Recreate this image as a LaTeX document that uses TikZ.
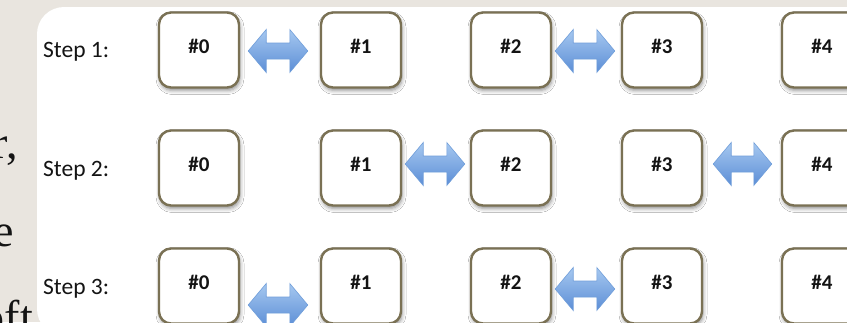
\documentclass[tikz,border=0pt]{standalone}
\usepackage{fontspec}
\setmainfont{Liberation Serif}
\newfontfamily\cellfont{Carlito}
\usetikzlibrary{calc,shadows.blur}

\definecolor{pagebg}{RGB}{233,229,223}
\definecolor{boxrim}{RGB}{122,113,84}
\definecolor{arrowtop}{RGB}{166,200,240}
\definecolor{arrowbot}{RGB}{92,142,214}
\definecolor{arrowrim}{RGB}{112,158,218}
\definecolor{ink}{RGB}{20,20,20}

\tikzset{
  cell/.style={draw=boxrim, line width=2.4pt, fill=white, rounded corners=12pt,
    minimum width=80pt, minimum height=75pt, inner sep=0pt,
    text=ink, font=\cellfont\bfseries\fontsize{21}{21}\selectfont,
    text height=20pt, text depth=13pt,
    blur shadow={shadow xshift=1pt, shadow yshift=-3pt,
      shadow blur radius=4pt, shadow opacity=45}},
  steplabel/.style={anchor=base west, inner sep=0pt, text=ink,
    font=\cellfont\fontsize{23.5}{23.5}\selectfont},
  pagetext/.style={anchor=base east, inner sep=0pt, text=ink,
    font=\fontsize{46}{46}\selectfont},
  swapfill/.style={top color=arrowtop, bottom color=arrowbot,
    draw=arrowrim, line width=0.6pt}
}

% double-headed block arrow between two cells:
% #1 left cell, #2 right cell, #3 left gap, #4 right gap, #5 vertical offset
\newcommand\swaparrow[5]{%
  \path[swapfill]
    let \p1=($(#1.east)+(#3,#5)$), \p2=($(#2.west)+(-#4,#5)$) in
    (\x1,\y1) -- (\x1+18pt,\y1+21.5pt) -- (\x1+18pt,\y1+8pt)
    -- (\x2-18pt,\y1+8pt) -- (\x2-18pt,\y1+21.5pt) -- (\x2,\y1)
    -- (\x2-18pt,\y1-21.5pt) -- (\x2-18pt,\y1-8pt)
    -- (\x1+18pt,\y1-8pt) -- (\x1+18pt,\y1-21.5pt) -- cycle;}

\begin{document}
\begin{tikzpicture}[x=1pt,y=-1pt]
  \useasboundingbox (0,0) rectangle (847,322);
  \clip (0,0) rectangle (847,322);

  % page backdrop and the white panel
  \fill[pagebg] (0,0) rectangle (847,322);
  \fill[white, rounded corners=27pt] (37,7) rectangle (900,336);

  % running text of the page at the left edge
  \node[pagetext] (w1) at (18,158) {r,};
  \node[pagetext] (w2) at (14.5,246) {e};
  \node[pagetext] (w3) at (33,332) {oft};

  % step labels
  \node[steplabel] (s1) at (43,57) {Step 1:};
  \node[steplabel] (s2) at (43,176) {Step 2:};
  \node[steplabel] (s3) at (43,294) {Step 3:};

  % cells of each step
  \foreach \r/\y in {a/50,b/168,c/286}{
    \node[cell] (\r0) at (199,\y) {\#0};
    \node[cell] (\r1) at (361,\y) {\#1};
    \node[cell] (\r2) at (511,\y) {\#2};
    \node[cell] (\r3) at (662,\y) {\#3};
    \node[cell] (\r4) at (822,\y) {\#4};
  }

  % swaps, step 1
  \swaparrow{a0}{a1}{8}{12}{1}
  \swaparrow{a2}{a3}{3}{6}{1}
  % swaps, step 2
  \swaparrow{b1}{b2}{3}{5}{-4}
  \swaparrow{b3}{b4}{10}{9}{-4}
  % swaps, step 3
  \swaparrow{c0}{c1}{8}{12}{19}
  \swaparrow{c2}{c3}{3}{6}{3}
\end{tikzpicture}
\end{document}
